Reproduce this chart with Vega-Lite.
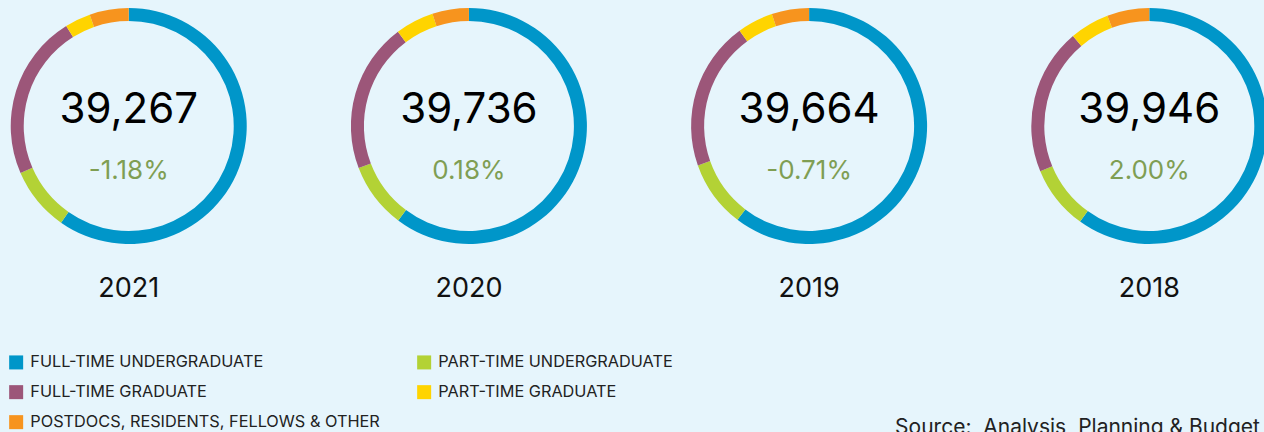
{
  "$schema": "https://vega.github.io/schema/vega-lite/v6.json",
  "width": 1264,
  "height": 252,
  "padding": 0,
  "background": "#e6f5fc",
  "config": {"view": {"stroke": null}},
  "datasets": {
    "rings": [
      {"year": "2021", "cat": "FULL-TIME UNDERGRADUATE", "k": 1, "n": 23451},
      {"year": "2021", "cat": "PART-TIME UNDERGRADUATE", "k": 2, "n": 3436},
      {"year": "2021", "cat": "FULL-TIME GRADUATE", "k": 3, "n": 8890},
      {"year": "2021", "cat": "PART-TIME GRADUATE", "k": 4, "n": 1385},
      {"year": "2021", "cat": "POSTDOCS, RESIDENTS, FELLOWS & OTHER", "k": 5, "n": 2105},
      {"year": "2020", "cat": "FULL-TIME UNDERGRADUATE", "k": 1, "n": 23931},
      {"year": "2020", "cat": "PART-TIME UNDERGRADUATE", "k": 2, "n": 3565},
      {"year": "2020", "cat": "FULL-TIME GRADUATE", "k": 3, "n": 8157},
      {"year": "2020", "cat": "PART-TIME GRADUATE", "k": 4, "n": 2097},
      {"year": "2020", "cat": "POSTDOCS, RESIDENTS, FELLOWS & OTHER", "k": 5, "n": 1986},
      {"year": "2019", "cat": "FULL-TIME UNDERGRADUATE", "k": 1, "n": 23952},
      {"year": "2019", "cat": "PART-TIME UNDERGRADUATE", "k": 2, "n": 3647},
      {"year": "2019", "cat": "FULL-TIME GRADUATE", "k": 3, "n": 8087},
      {"year": "2019", "cat": "PART-TIME GRADUATE", "k": 4, "n": 1950},
      {"year": "2019", "cat": "POSTDOCS, RESIDENTS, FELLOWS & OTHER", "k": 5, "n": 2028},
      {"year": "2018", "cat": "FULL-TIME UNDERGRADUATE", "k": 1, "n": 23957},
      {"year": "2018", "cat": "PART-TIME UNDERGRADUATE", "k": 2, "n": 3506},
      {"year": "2018", "cat": "FULL-TIME GRADUATE", "k": 3, "n": 8011},
      {"year": "2018", "cat": "PART-TIME GRADUATE", "k": 4, "n": 2164},
      {"year": "2018", "cat": "POSTDOCS, RESIDENTS, FELLOWS & OTHER", "k": 5, "n": 2308}
    ],
    "years": [
      {"year": "2021", "total": 39267, "change": "-1.18%"},
      {"year": "2020", "total": 39736, "change": "0.18%"},
      {"year": "2019", "total": 39664, "change": "-0.71%"},
      {"year": "2018", "total": 39946, "change": "2.00%"}
    ],
    "note": [
      {"year": "2019", "label": "Source:\u00a0 Analysis, Planning & Budget Office"}
    ]
  },
  "layer": [
    {
      "data": {"name": "rings"},
      "transform": [
        {"stack": "n", "groupby": ["year"], "offset": "normalize", "sort": [{"field": "k", "order": "ascending"}], "as": ["s0", "s1"]}
      ],
      "mark": {"type": "arc", "outerRadius": 118, "innerRadius": 105},
      "encoding": {
        "x": {"field": "year", "type": "ordinal", "axis": null,
              "scale": {"type": "point", "domain": ["2021", "2020", "2019", "2018"], "padding": 0.3578, "align": 0.5288}},
        "theta": {"field": "s0", "type": "quantitative", "scale": {"domain": [0, 1]}},
        "theta2": {"field": "s1"},
        "color": {
          "field": "cat", "type": "nominal",
          "scale": {
            "domain": ["FULL-TIME UNDERGRADUATE", "PART-TIME UNDERGRADUATE", "FULL-TIME GRADUATE", "PART-TIME GRADUATE", "POSTDOCS, RESIDENTS, FELLOWS & OTHER"],
            "range": ["#0096c9", "#b3d235", "#9c5679", "#ffd400", "#f7941e"]
          },
          "legend": {
            "title": null, "orient": "none", "legendX": 8, "legendY": 354, "columns": 2, "direction": "horizontal",
            "symbolType": "square", "symbolSize": 196, "symbolStrokeWidth": 0, "symbolOpacity": 1,
            "labelFont": "Inter", "labelFontSize": 16.3, "labelColor": "#222222", "labelOffset": 6,
            "labelLimit": 500, "rowPadding": 13, "columnPadding": 36
          }
        }
      }
    },
    {
      "data": {"name": "years"},
      "mark": {"type": "text", "font": "Inter", "fontSize": 42, "baseline": "alphabetic", "align": "center", "dy": -3, "color": "#000000"},
      "encoding": {
        "x": {"field": "year", "type": "ordinal"},
        "text": {"field": "total", "type": "quantitative", "format": ","}
      }
    },
    {
      "data": {"name": "years"},
      "mark": {"type": "text", "font": "Inter", "fontSize": 26, "baseline": "alphabetic", "align": "center", "dy": 53, "color": "#7f9e53"},
      "encoding": {
        "x": {"field": "year", "type": "ordinal"},
        "text": {"field": "change", "type": "nominal"}
      }
    },
    {
      "data": {"name": "years"},
      "mark": {"type": "text", "font": "Inter", "fontSize": 27, "baseline": "alphabetic", "align": "center", "dy": 171, "color": "#111111"},
      "encoding": {
        "x": {"field": "year", "type": "ordinal"},
        "text": {"field": "year", "type": "nominal"}
      }
    },
    {
      "data": {"name": "note"},
      "mark": {"type": "text", "font": "Inter", "fontSize": 21, "baseline": "alphabetic", "align": "left", "dx": 86, "dy": 308, "color": "#222222"},
      "encoding": {
        "x": {"field": "year", "type": "ordinal"},
        "text": {"field": "label", "type": "nominal"}
      }
    }
  ]
}
